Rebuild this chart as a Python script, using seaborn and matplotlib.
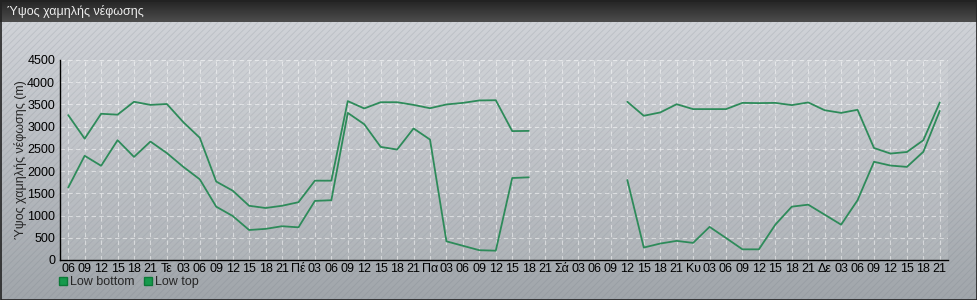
import numpy as np
import pandas as pd
import matplotlib
matplotlib.use("Agg")
import matplotlib.pyplot as plt
from matplotlib.patches import Rectangle
from matplotlib.lines import Line2D
import seaborn as sns

# ---------------- data ----------------
x_labels = ["06", "09", "12", "15", "18", "21",
            "Τε", "03", "06", "09", "12", "15", "18", "21",
            "Πέ", "03", "06", "09", "12", "15", "18", "21",
            "Πα", "03", "06", "09", "12", "15", "18", "21",
            "Σά", "03", "06", "09", "12", "15", "18", "21",
            "Κυ", "03", "06", "09", "12", "15", "18", "21",
            "Δε", "03", "06", "09", "12", "15", "18", "21"]

low_top = [3260, 2730, 3290, 3270, 3560, 3490,
           3510, 3100, 2750, 1765, 1560, 1220, 1170, 1220,
           1300, 1785, 1785, 3575, 3410, 3550, 3550, 3490,
           3415, 3500, 3535, 3590, 3595, 2900, 2905, np.nan,
           np.nan, np.nan, np.nan, np.nan, 3560, 3245, 3320, 3505,
           3395, 3395, 3395, 3535, 3530, 3535, 3485, 3545,
           3370, 3310, 3380, 2520, 2395, 2430, 2695, 3545]

low_bottom = [1630, 2345, 2120, 2695, 2320, 2665,
              2405, 2095, 1815, 1200, 990, 675, 700, 760,
              735, 1330, 1345, 3310, 3055, 2545, 2485, 2960,
              2710, 420, 320, 220, 210, 1845, 1860, np.nan,
              np.nan, np.nan, np.nan, np.nan, 1800, 280, 370, 430,
              385, 745, 495, 240, 240, 795, 1200, 1245,
              1020, 795, 1345, 2210, 2125, 2095, 2435, 3355]

series_names = ["Low bottom", "Low top"]
y_ticks = [0, 500, 1000, 1500, 2000, 2500, 3000, 3500, 4000, 4500]

title = "Ύψος χαμηλής νέφωσης"
y_label = "Ύψος χαμηλής νέφωσης (m)"

# ---------------- build long table ----------------
rows = []
for name, vals in zip(series_names, [low_bottom, low_top]):
    seg = 0
    prev_nan = False
    for i, v in enumerate(vals):
        if np.isnan(v):
            prev_nan = True
            continue
        if prev_nan:
            seg += 1
            prev_nan = False
        rows.append({"idx": i, "value": v, "series": name, "seg": f"{name}-{seg}"})
df = pd.DataFrame(rows)

# ---------------- style ----------------
sns.set_theme(style="white")
plt.rcParams["font.family"] = ["Liberation Sans", "DejaVu Sans"]
plt.rcParams["hatch.linewidth"] = 0.6

W, H = 978, 300
fig = plt.figure(figsize=(W / 100, H / 100), dpi=100)

# background gradient
bg = fig.add_axes([0, 0, 1, 1], zorder=-10)
grad = np.linspace(0, 1, 256).reshape(-1, 1)
top_c = np.array([0.83, 0.84, 0.86])
bot_c = np.array([0.63, 0.65, 0.67])
img = top_c[None, None, :] * (1 - grad[:, :, None]) + bot_c[None, None, :] * grad[:, :, None]
bg.imshow(img, aspect="auto", extent=[0, 1, 0, 1], origin="upper")
bg.add_patch(Rectangle((0, 0), 1, 1, facecolor="none", edgecolor=(0.40, 0.43, 0.48, 0.18),
                       hatch="/////", linewidth=0))
bg.set_xlim(0, 1); bg.set_ylim(0, 1)
bg.axis("off")

# title bar
tb_h = 22 / H
tb = fig.add_axes([0, 1 - tb_h, 1, tb_h], zorder=-5)
g2 = np.linspace(0, 1, 64).reshape(-1, 1)
c1 = np.array([0.14, 0.14, 0.14]); c2 = np.array([0.30, 0.30, 0.30])
img2 = c1[None, None, :] * (1 - g2[:, :, None]) + c2[None, None, :] * g2[:, :, None]
tb.imshow(img2, aspect="auto", extent=[0, 1, 0, 1], origin="upper")
tb.set_xlim(0, 1); tb.set_ylim(0, 1)
tb.axis("off")
fig.text(7 / W, 1 - 11 / H, title, color="#eeeeee", fontsize=9, va="center", ha="left",
         family=["Liberation Sans", "DejaVu Sans"])

# outer border
fig.add_artist(Rectangle((0.5 / W, 0.5 / H), 1 - 1.5 / W, 1 - 1.5 / H, transform=fig.transFigure,
                         fill=False, edgecolor="#222222", linewidth=1.2))

# main axes
left, right = 60 / W, 948 / W
bottom, top = (H - 260) / H, (H - 60) / H
ax = fig.add_axes([left, bottom, right - left, top - bottom])
ax.set_facecolor((1, 1, 1, 0.10))

line_color = "#2e8b5a"
sns.lineplot(data=df, x="idx", y="value", hue="series", units="seg", estimator=None,
             palette={n: line_color for n in series_names}, legend=False, sort=True,
             linewidth=1.3, ax=ax)

ax.set_xlim(-0.5, len(x_labels) - 0.5)
ax.set_ylim(0, 4500)
ax.set_xticks(range(len(x_labels)))
ax.set_xticklabels(x_labels)
ax.set_yticks(y_ticks)
ax.set_yticklabels([str(t) for t in y_ticks])
ax.tick_params(axis="both", direction="inout", length=5, width=0.8, colors="black",
               labelsize=9, pad=1)
ax.tick_params(axis="x", pad=0)
ax.set_xlabel("")
ax.set_ylabel(y_label, fontsize=9)
ax.yaxis.set_label_coords(-(60 - 27) / 888, 0.5)
ax.grid(True, color="white", linestyle=(0, (4, 3)), linewidth=0.8, alpha=0.5)
for s in ["top", "right"]:
    ax.spines[s].set_visible(False)
for s in ["left", "bottom"]:
    ax.spines[s].set_color("black")
    ax.spines[s].set_linewidth(1.0)

# legend
handles = [Line2D([], [], marker="s", linestyle="none", markersize=5.5,
                  markerfacecolor="#169a4c", markeredgecolor="#0c7a38") for _ in series_names]
fig.legend(handles, series_names, loc="center left", bbox_to_anchor=(57 / W, 1 - 282 / H),
           ncol=2, frameon=False, fontsize=9, handletextpad=0.05, columnspacing=0.6,
           handlelength=1.0, borderaxespad=0, borderpad=0)

fig.savefig("out.png", dpi=100)
